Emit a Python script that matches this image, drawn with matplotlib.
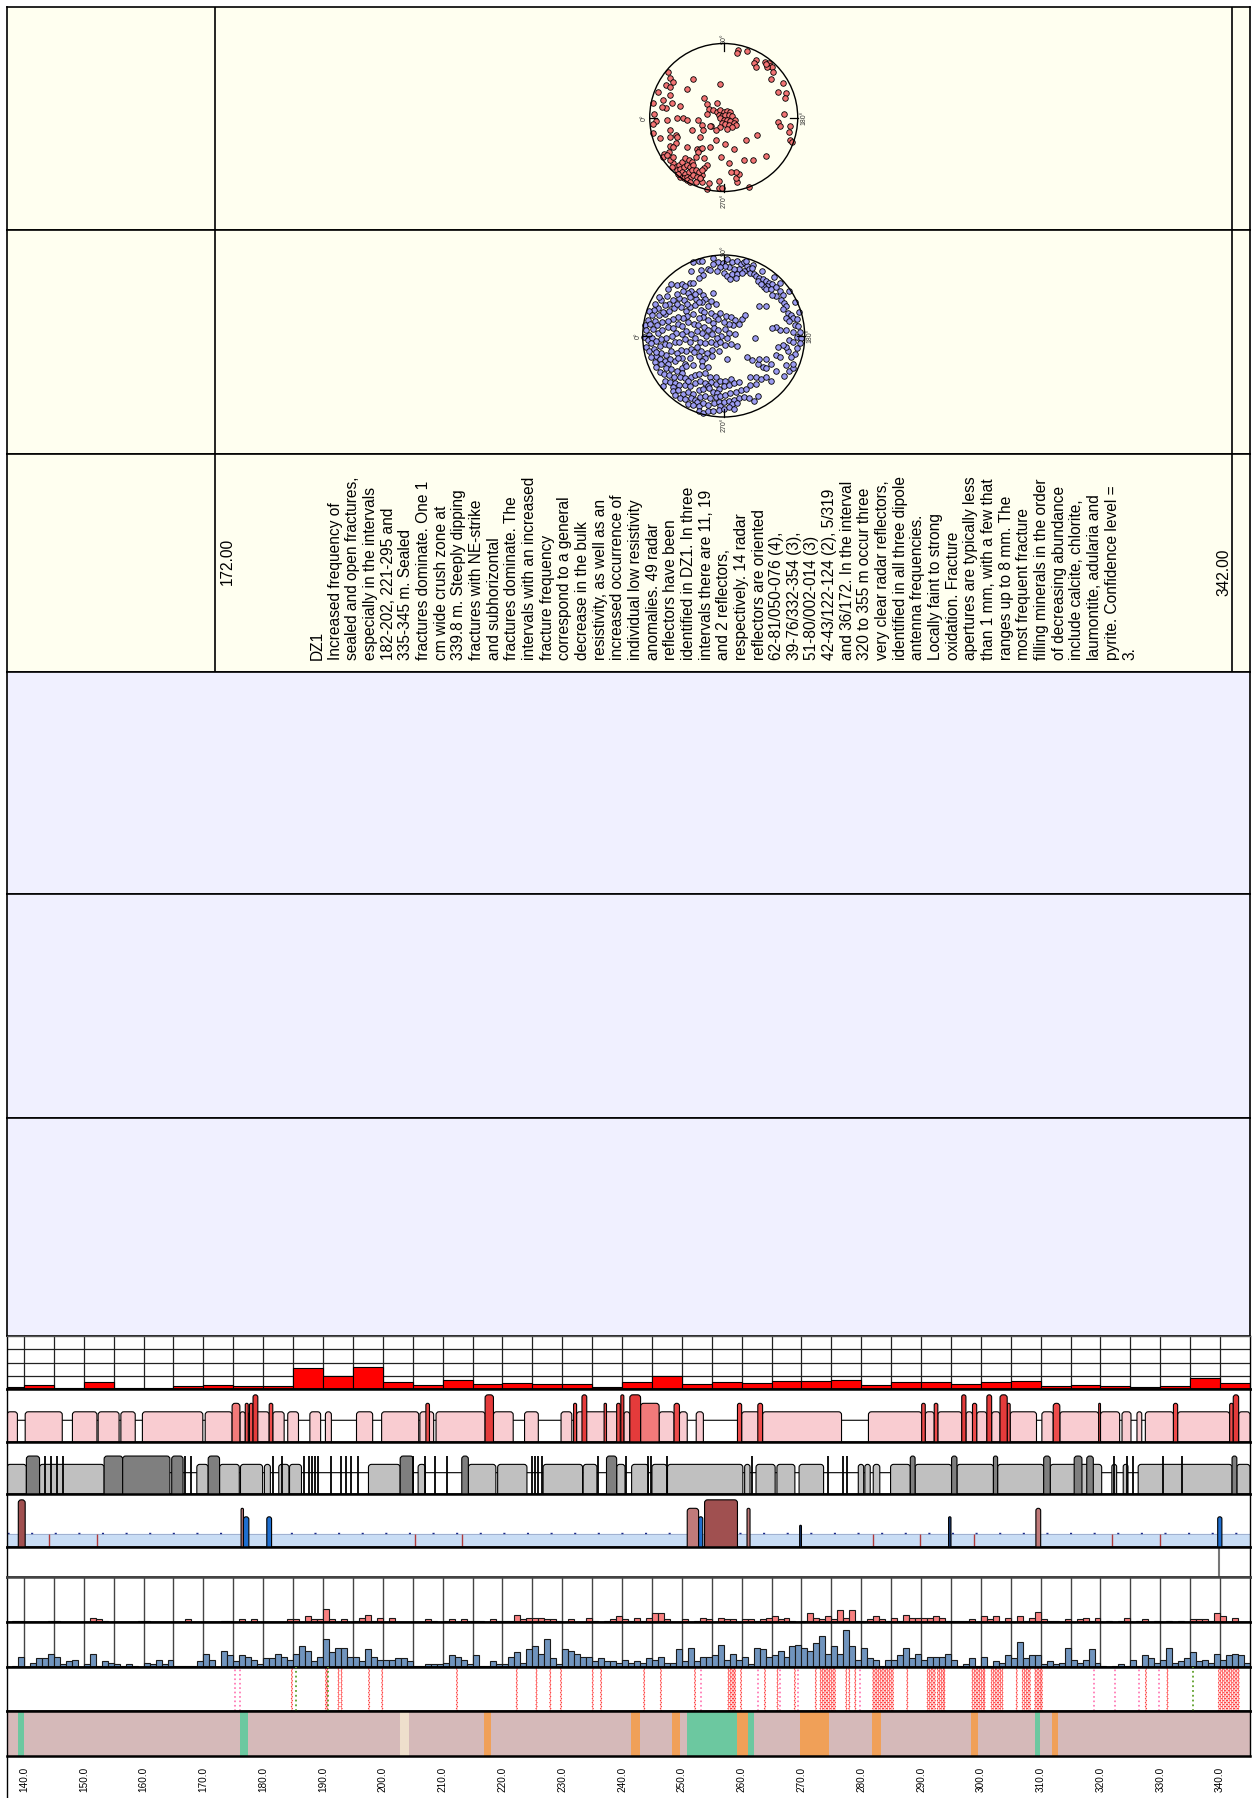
import numpy as np
import matplotlib
matplotlib.use("Agg")
import matplotlib.pyplot as plt
from matplotlib.patches import FancyBboxPatch, BoxStyle, Circle
from matplotlib.lines import Line2D

plt.rcParams['font.family'] = ['Liberation Sans', 'DejaVu Sans']

# ===================== DATA =====================
depth_min, depth_max = 137.16, 345.0
zone_name = "DZ1"
zone_top, zone_bottom = 172.0, 342.0
zone_top_label, zone_bottom_label = "172.00", "342.00"

description = [
    "DZ1", "Increased frequency of", "sealed and open fractures,",
    "especially in the intervals", "182-202, 221-295 and", "335-345 m. Sealed",
    "fractures dominate. One 1", "cm wide crush zone at", "339.8 m. Steeply dipping",
    "fractures with NE-strike", "and subhorizontal", "fractures dominate. The",
    "intervals with an increased", "fracture frequency", "correspond to a general",
    "decrease in the bulk", "resistivity, as well as an", "increased occurrence of",
    "individual low resistivity", "anomalies. 49 radar", "reflectors have been",
    "identified in DZ1. In three", "intervals there are 11, 19", "and 2 reflectors,",
    "respectively. 14 radar", "reflectors are oriented", "62-81/050-076 (4),",
    "39-76/332-354 (3),", "51-80/002-014 (3)", "42-43/122-124 (2), 5/319",
    "and 36/172. In the interval", "320 to 355 m occur three", "very clear radar reflectors,",
    "identified in all three dipole", "antenna frequencies.", "Locally faint to strong",
    "oxidation. Fracture", "apertures are typically less", "than 1 mm, with a few that",
    "ranges up to 8 mm. The", "most frequent fracture", "filling minerals in the order",
    "of decreasing abundance", "include calcite, chlorite,", "laumontite, adularia and",
    "pyrite. Confidence level =", "3.",
]

depth_ticks = [140.0, 150.0, 160.0, 170.0, 180.0, 190.0, 200.0, 210.0, 220.0, 230.0, 240.0,
               250.0, 260.0, 270.0, 280.0, 290.0, 300.0, 310.0, 320.0, 330.0, 340.0]

# stereonet poles (position in % of net radius; 0 deg left, 90 deg top)
red_poles = [(19,91),(18,87),(31,90),(44,78),(41,73),(43,68),(56,75),(59,71),(61,73),(63,69),
    (65,68),(67,61),(59,68),(57,72),(80,47),(64,52),(73,34),(84,33),(83,26),(81,5),(74,-6),
    (76,-11),(89,-11),(88,-19),(89,-31),(92,-33),(45,-24),(57,-52),(40,-58),(27,-58),(34,-94),
    (18,-87),(16,-82),(20,-76),(17,-73),(10,-74),(7,-61),(-4,-53),(14,-43),(30,-30),(2,-36),
    (-10,-30),(-18,-40),(-22,-64),(-27,-68),(-29,-78),(-32,-82),(-20,-89),(-30,-87),(-6,-86),
    (-6,-95),(-2,-95),(-22,-96),
    (-5,45),(-26,26),(-23,18),(-9,19),(-20,12),(-14,10),(-9,8),(-5,10),(0,8),(5,9),(9,8),
    (-7,3),(-2,2),(2,3),(7,3),(11,2),(15,-3),(-5,-1),(0,-3),(5,-3),(9,-5),(14,-8),(16,-10),
    (-2,-8),(2,-9),(7,-10),(11,-13),(-5,-13),(4,-16),(-11,-17),(-17,-12),(-23,5),(-30,-10),
    (-28,-17),(-19,-11),
    (-75,62),(-72,53),(-68,48),(-78,44),(-73,41),(-41,52),(-50,39),(-89,34),(-82,23),(-72,30),
    (-70,19),(-78,13),(-84,14),(-95,19),(-94,5),(-91,-5),(-95,-9),(-95,-21),(-86,-28),(-77,-3),
    (-59,15),(-63,-1),(-55,-1),(-50,-4),(-35,-4),(-73,-17),(-64,-23),(-73,-26),(-63,-26),
    (-64,-35),(-72,-39),(-68,-40),(-74,-46),(-81,-49),(-82,-53),(-43,-17),(-32,-27),(-50,-40),
    (-36,-42),(-32,-43),(-29,-41),(-35,-46),(-27,-55),(-38,-53),
    (-68,-62),(-65,-67),(-61,-64),(-56,-60),(-52,-55),(-47,-58),(-43,-60),(-63,-71),(-59,-69),
    (-54,-67),(-50,-64),(-45,-67),(-41,-64),(-61,-76),(-56,-73),(-52,-76),(-47,-73),(-43,-71),
    (-38,-71),(-59,-80),(-54,-82),(-50,-80),(-45,-82),(-41,-78),(-34,-73),(-36,-80),(-29,-71),
    (-72,-58),(-68,-53),(-70,-67),(-50,-85),(-45,-87),(-38,-87),(-32,-82),(-77,-51),(-62,-77)]

blue_poles = [(-38,91),(-31,92),(-27,93),(-13,96),(-7,91),(-1,90),(4,95),(10,91),(17,93),(21,89),
    (25,91),(29,87),(31,83),(25,80),(19,83),(13,83),(6,85),(2,87),(-4,85),(-13,89),(-19,83),
    (-8,80),(0,78),(4,74),(10,76),(17,76),(23,78),(33,78),(38,76),(40,74),(44,72),(42,68),
    (48,70),(52,68),(56,66),(60,64),(54,62),(50,60),(46,64),(52,58),(58,58),(65,60),(69,55),
    (73,51),(65,49),(60,51),(71,45),(75,41),(77,37),(73,33),(79,28),(83,26),(85,22),(77,22),
    (81,18),(88,14),(92,12),(94,5),(90,-1),(96,-3),(94,-9),(90,-15),(88,-22),(83,-26),(79,-18),
    (77,-13),(73,-11),(81,-5),(85,-7),(69,8),(65,11),(77,8),(85,5),(60,10),(52,37),(43,37),
    (15,72),(8,70),(-40,80),(-28,82),(-17,82),(-25,75),(-31,72),(-42,66),
    (28,93),(36,88),(47,80),(62,73),(70,65),(80,55),(88,42),(93,30),(91,21),(35,84),
    (-65,64),(-69,58),(-58,63),(-52,64),(-48,62),(-38,66),(-40,55),(-44,53),(-31,55),(-25,51),
    (-23,46),(-16,43),(-13,53),(-10,39),(-20,37),(-27,42),(-34,46),(-42,48),(-49,44),(-55,47),
    (-62,44),(-67,40),(-72,38),(-77,44),(-81,34),(-86,32),(-92,31),(-89,26),(-94,20),(-97,13),
    (-96,8),(-91,15),(-85,19),(-80,26),(-72,27),(-68,31),(-61,34),(-53,36),(-47,31),(-42,36),
    (-36,38),(-28,32),(-24,30),(-16,29),(-11,25),(-4,29),(3,25),(9,23),(14,20),(22,21),(26,26),
    (-58,52),(-50,55),(-35,52),(-45,40),(-30,42),(-58,40),(-75,30),(-85,40),(-70,50),(-80,48),
    (19,15),(12,13),(7,15),(0,17),(-7,21),(-13,16),(-20,20),(-26,23),(-30,22),(-38,27),(-45,25),
    (-50,22),(-57,24),(-62,21),(-69,19),(-76,17),(-82,13),(-87,9),
    (-92,1),(-98,-1),(-94,-5),(-88,-2),(-81,4),(-76,7),(-69,11),(-63,10),(-56,15),(-51,12),
    (-44,17),(-37,15),(-32,13),(-24,11),(-19,8),(-12,10),(-7,7),(1,9),(6,4),(14,2),
    (4,-2),(-3,0),(-8,-3),(-15,2),(-22,0),(-27,4),(-33,6),(-41,3),(-46,6),(-52,2),(-59,4),
    (-64,0),(-71,-2),(-77,-4),(-84,-6),(-90,-9),
    (-96,-13),(-92,-18),(-86,-16),(-79,-12),(-73,-10),(-67,-11),(-60,-7),(-55,-8),(-48,-4),
    (-42,-7),(-35,-3),(-29,-7),(-23,-9),(-16,-8),(-10,-10),(-4,-8),(2,-11),(9,-10),(17,-12),
    (-6,-19),(-14,-17),(-21,-21),(-28,-18),(-33,-14),(-40,-16),(-46,-19),(-53,-17),(-58,-21),
    (-65,-19),(-71,-23),(-78,-21),(-83,-25),(-90,-26),
    (-85,-32),(-79,-29),(-73,-31),(-66,-29),(-60,-31),(-52,-27),(-42,-27),(-31,-25),(-23,-27),
    (-15,-25),(4,-28),(-48,-34),(-69,-34),(-84,-20),(-57,-27),(-37,-20),(-27,-31),
    (-83,-38),(-77,-35),(-71,-39),(-65,-41),(-58,-43),(-52,-39),(-46,-37),(-38,-36),(-27,-37),
    (-19,-38),(-52,-46),
    (-79,-45),(-74,-47),(-67,-48),(-61,-51),(-54,-50),(-48,-52),(-41,-50),(-35,-48),(-30,-47),
    (-23,-46),(-17,-50),(-10,-51),
    (-73,-55),(-66,-57),(-60,-58),(-55,-60),(-48,-60),(-42,-62),(-36,-58),(-29,-56),(-23,-58),
    (-16,-57),(-10,-59),(-4,-56),(2,-55),(9,-53),(-62,-63),(-44,-56),(-20,-62),(-75,-62),
    (-63,-68),(-57,-67),(-50,-71),(-44,-69),(-38,-71),(-31,-67),(-25,-66),(-18,-64),(-13,-69),
    (-6,-65),(0,-62),(7,-61),(13,-58),(19,-57),(-8,-70),(-60,-73),
    (-54,-76),(-48,-78),(-41,-77),(-35,-79),(-29,-75),(-23,-74),(-17,-77),(-10,-75),(-4,-74),
    (2,-73),(8,-70),(15,-69),(21,-67),(-33,-82),
    (-44,-84),(-38,-85),(-31,-87),(-25,-83),(-19,-85),(-12,-83),(-6,-82),(0,-81),(6,-80),
    (13,-79),(19,-76),(25,-75),(-5,-86),(10,-84),(17,-83),
    (-31,-92),(-25,-95),(-19,-92),(-13,-93),(-6,-91),(0,-90),(6,-88),(13,-90),
    (31,-76),(38,-80),(42,-74),(27,-65),(33,-61),(40,-59),(33,-51),(40,-51),(46,-53),(52,-50),
    (48,-38),(42,-34),(35,-30),(29,-26),(52,-28),(44,-28),(65,-24),(69,-26),(75,-49),(81,-43),
    (85,-40),(65,-43),(58,-55),(52,-40),(58,-34),(39,-2),(67,-13),(77,-36),(85,-34)]

# Track A: fracture frequency per 5 m window
freq5_start = [135, 140, 145, 150, 155, 160, 165, 170, 175, 180, 185, 190, 195, 200, 205, 210,
               215, 220, 225, 230, 235, 240, 245, 250, 255, 260, 265, 270, 275, 280, 285, 290,
               295, 300, 305, 310, 315, 320, 325, 330, 335, 340]
freq5_value = [0.75, 1.5, 0.5, 2.5, 0.5, 0.5, 1.0, 1.5, 1.0, 1.0, 7.9, 4.75, 8.25, 2.5, 1.5, 3.25,
               1.9, 2.25, 1.9, 2.0, 0.75, 2.6, 4.75, 1.9, 2.6, 2.4, 3.0, 3.0, 3.4, 1.5, 2.5, 2.5,
               2.0, 2.75, 3.0, 1.25, 1.5, 1.0, 0.75, 1.0, 4.1, 2.25]

# 1 m histograms (138..344 m)
hist_start = list(range(138, 345))
open_per_m = [1,1,0,0,0,0,1,1,0,0, 0,0,0,3,2,1,0,0,0,0, 0,1,1,0,0,0,0,0,0,2,
    0,0,0,0,0,1,1,0,2,0, 2,0,0,0,0,0,2,2,0,4, 2,2,9,2,0,2,0,1,3,5,
    1,3,0,3,0,0,0,0,0,2, 1,0,1,2,0,2,1,1,1,0, 2,1,1,1,5,2,3,3,3,2,
    2,1,0,2,0,0,3,1,0,1, 2,4,2,1,3,1,3,6,6,2, 0,0,2,0,1,3,2,0,3,2,
    2,0,2,2,1,2,3,4,2,3, 1,0,1,6,3,2,4,2,8,3, 8,1,1,2,4,2,1,3,1,5,
    3,3,3,3,4,3,1,1,1,1, 2,0,4,2,4,0,3,0,4,1, 3,7,2,1,1,0,2,0,2,3,
    1,3,0,1,0,1,3,0,1,2, 0,1,0,1,0,1,0,2,2,2, 1,6,4,0,3,0,0]
sealed_per_m = [1,7,0,3,6,6,9,7,2,4, 5,0,2,9,1,4,3,2,1,2, 1,0,3,2,5,2,5,1,1,1,
    1,4,9,5,0,11,8,4,8,7, 5,2,6,6,9,7,5,9,14,11, 4,7,19,10,13,13,7,7,4,12,
    7,5,5,5,6,6,4,1,1,2, 2,2,3,8,7,5,2,8,1,1, 4,2,2,7,10,3,12,14,9,19,
    6,2,12,11,9,7,7,4,6,4, 4,3,5,3,4,3,6,5,7,3, 3,12,4,13,4,7,7,8,15,5,
    9,5,7,2,13,12,7,8,11,7, 14,15,13,11,16,21,9,14,9,25, 14,5,13,6,5,1,5,5,8,13,
    6,9,5,7,7,7,9,5,1,2, 6,1,7,1,4,3,8,6,17,6, 8,8,2,4,2,3,13,5,3,5,
    12,3,1,0,1,2,1,5,1,8, 6,3,5,13,3,4,6,10,4,5, 3,9,5,8,9,8,3]

# Track B: alteration intervals
alt_pink = [(137.16,138.9),(140.2,146.4),(148.1,152.2),(152.4,155.9),(156.2,158.6),(159.8,169.9),
    (170.3,174.8),(176.1,177.0),(177.5,181.0),(181.6,183.5),(184.1,185.9),(187.8,189.6),
    (190.4,191.4),(195.6,198.3),(199.8,206.0),(206.2,208.5),(208.9,217.1),(218.5,221.8),
    (223.7,226.0),(229.8,231.6),(232.4,239.4),(240.3,241.3),(246.2,248.7),(249.6,250.9),
    (252.4,253.6),(260.0,263.0),(263.5,276.7),(281.2,290.1),(290.7,292.2),(292.8,296.8),
    (297.5,298.6),(299.3,301.0),(301.8,303.2),(304.9,309.3),(310.2,312.1),(313.2,319.7),
    (320.0,323.2),(323.6,325.1),(326.1,326.9),(327.5,332.2),(332.9,341.6),(343.1,345.0)]
alt_light_red = [(174.8,176.1),(243.1,246.2)]
alt_red = [(177.0,177.5),(177.7,178.3),(181.0,181.6),(207.2,207.8),(231.9,232.4),(237.0,237.4),
    (239.1,239.7),(248.7,249.6),(259.3,260.0),(262.7,263.5),(290.1,290.7),(292.2,292.8),
    (298.6,299.3),(304.4,304.9),(312.1,313.2),(319.7,320.0),(332.2,332.9),(341.6,342.2)]
alt_dark_red = [(178.3,179.1),(217.1,218.5),(233.3,234.1),(239.8,240.3),(241.3,243.1),
    (296.8,297.5),(301.0,301.8),(303.2,304.4),(342.2,343.1)]

# Track C: grey intervals
grey_light = [(137.16,140.4),(142.6,153.4),(168.9,170.8),(172.7,176.0),(176.2,179.9),(180.2,181.2),
    (182.6,184.3),(184.4,186.4),(197.6,202.9),(205.9,207.1),(214.3,218.9),(219.2,224.1),
    (226.8,233.4),(233.5,235.8),(239.1,240.5),(241.6,244.4),(245.0,247.5),(247.6,260.2),
    (260.5,261.4),(262.4,265.6),(265.9,268.9),(269.6,273.7),(279.5,280.4),(280.6,281.5),
    (282.0,283.1),(284.9,288.2),(289.0,295.1),(296.0,302.1),(302.8,310.5),(311.6,320.2),
    (321.9,322.7),(323.8,324.6),(326.3,342.0),(342.8,345.0)]
grey_dark = [(140.4,142.6),(153.4,156.5),(156.5,164.4),(164.7,166.6),(170.8,172.7),(202.9,205.1),
    (213.2,214.3),(237.4,239.1),(288.2,289.0),(295.1,296.0),(302.1,302.8),(310.5,311.6),
    (315.6,316.9),(317.7,318.8),(342.0,342.8)]
grey_lines = [143.5,144.6,145.5,146.6,166.9,168.0,181.6,183.2,186.9,187.6,188.1,188.7,189.2,
    191.4,193.0,193.8,194.7,195.8,205.1,207.1,208.7,210.7,224.9,225.5,226.0,226.6,236.0,
    240.7,244.4,244.8,247.5,261.7,274.5,277.0,277.6,322.2,324.4,325.5,330.5,333.7]

# Track D
d_dark = [(139.05,140.2),(253.8,259.3)]
d_mid = [(176.3,176.7),(250.9,252.8),(260.9,261.4),(309.2,310.0)]
d_blue = [(176.7,177.6),(180.6,181.4),(252.8,253.5),(339.6,340.3)]
d_navy = [(269.7,270.0),(294.6,295.0)]
d_navy_level = [0.41, 0.57]
d_ticks = [144.1,152.2,205.3,213.3,281.9,289.8,298.9,322.0,330.0]

# Track E
crush_zone = [339.8]

# Track H: individual fractures
frac_open = [184.8,190.5,190.7,192.6,193.1,197.7,199.9,212.4,222.4,225.7,228.0,229.8,235.1,
    236.5,243.7,246.5,252.2,257.8,258.1,258.4,258.7,258.9,259.9,263.9,266.0,268.9,272.4,
    273.2,273.5,273.8,274.1,274.4,274.7,275.0,275.3,275.6,277.5,278.0,279.0,
    282.0,282.3,282.6,282.9,283.2,283.5,283.8,284.1,284.4,284.7,285.0,285.3,287.7,
    291.1,291.4,291.7,292.0,292.3,292.8,293.1,293.4,293.7,293.9,
    298.6,298.9,299.2,299.5,299.8,300.1,300.4,300.6,301.8,302.1,302.4,302.7,303.0,303.3,303.6,
    306.0,307.0,307.3,307.6,307.9,308.2,309.1,309.4,309.7,310.0,310.2,327.6,331.2,
    339.8,340.1,340.4,340.7,341.0,341.3,341.6,341.9,342.2,342.5,342.8,343.1]
frac_pink = [175.3,176.1,253.2,262.7,266.4,269.5,279.8,318.9,322.4,326.5,329.8]
frac_green = [185.5,190.8,335.5]

# Track I: rock type
rock_green = [(139.0,140.0),(176.1,177.5),(250.8,259.3),(261.0,262.1),(309.1,309.9)]
rock_orange = [(216.9,218.1),(241.5,243.0),(248.4,249.7),(259.3,261.0),(269.8,274.6),(281.8,283.3),
    (298.4,299.5),(311.9,312.9)]
rock_beige = [(202.9,204.4)]

# ===================== LAYOUT =====================
W, H = 1252, 1798
fig = plt.figure(figsize=(W / 100, H / 100), dpi=100)
X0, X1 = 7, 1250
PX_PER_M = (X1 - X0) / (depth_max - depth_min)


def add_ax(y0, y1, x0=X0, x1=X1):
    return fig.add_axes([x0 / W, 1 - y1 / H, (x1 - x0) / W, (y1 - y0) / H])


def depth_to_px(d):
    return X0 + (d - depth_min) * PX_PER_M


def clean(ax, ylim=(0, 1)):
    ax.set_xlim(depth_min, depth_max)
    ax.set_ylim(*ylim)
    ax.set_xticks([])
    ax.set_yticks([])


# --- top table rows ---
row_bounds = [7, 230, 454, 672, 894, 1118, 1336]
row_colors = ['#FFFFF0'] * 3 + ['#F0F0FF'] * 3
for i in range(6):
    ax = add_ax(row_bounds[i], row_bounds[i + 1])
    ax.set_facecolor(row_colors[i])
    clean(ax)
    for s in ax.spines.values():
        s.set_linewidth(1.2)
    if i < 3:
        for d in (zone_top, zone_bottom):
            ax.axvline(d, color='black', lw=1.2)


# --- stereonets ---
def stereonet(cy, r, poles, color, lab_off):
    cx = depth_to_px((zone_top + zone_bottom) / 2)
    s = r * 1.4
    ax = fig.add_axes([(cx - s) / W, 1 - (cy + s) / H, 2 * s / W, 2 * s / H])
    ax.set_xlim(-1.4, 1.4)
    ax.set_ylim(-1.4, 1.4)
    ax.axis('off')
    ax.add_patch(Circle((0, 0), 1, fill=False, ec='black', lw=1.0, zorder=4))
    px = np.array([p[0] for p in poles]) / 100.0
    py = np.array([p[1] for p in poles]) / 100.0
    ax.scatter(px, py, s=16, c=color, edgecolors='black', linewidths=0.6, zorder=3)
    for (tx, ty) in [(-1, 0), (0, 1), (1, 0), (0, -1)]:
        ax.plot([tx, tx * 0.9], [ty, ty * 0.9], color='black', lw=0.9, zorder=4)
    labs = [("0°", -lab_off[0], 0), ("90°", 0, lab_off[1]), ("180°", lab_off[2], 0),
            ("270°", 0, -lab_off[3])]
    for t, lx, ly in labs:
        ax.text(lx, ly, t, rotation=90, ha='center', va='center', fontsize=5.0, color='#333333')


stereonet(117.5, 74, red_poles, '#F27373', (1.08, 1.06, 1.08, 1.13))
stereonet(336, 81, blue_poles, '#9C9CF2', (1.06, 1.05, 1.06, 1.10))

# --- zone description ---
fs_desc = 11.2
fig.text(231.5 / W, 1 - 561 / H, zone_top_label, rotation=90, rotation_mode='anchor',
         ha='center', va='baseline', fontsize=fs_desc)
fig.text(1228.5 / W, 1 - 572 / H, zone_bottom_label, rotation=90, rotation_mode='anchor',
         ha='center', va='baseline', fontsize=fs_desc)
for i, line in enumerate(description):
    xb = 322.0 + 17.66 * i
    fig.text(xb / W, 1 - 660 / H, line, rotation=90, rotation_mode='anchor',
             ha='left', va='baseline', fontsize=fs_desc)

# --- log tracks ---
tracks = {'A': (1336, 1389), 'B': (1389, 1442), 'C': (1442, 1494), 'D': (1494, 1547),
          'E': (1547, 1577), 'F': (1577, 1622), 'G': (1622, 1667), 'H': (1667, 1711),
          'I': (1711, 1756)}
axs = {}
for k, (y0, y1) in tracks.items():
    ax = add_ax(y0, y1)
    clean(ax)
    for s in ('top', 'bottom'):
        ax.spines[s].set_linewidth(1.8)
    for s in ('left', 'right'):
        ax.spines[s].set_linewidth(1.0)
    axs[k] = ax
axs['A'].spines['top'].set_linewidth(1.0)
axs['A'].spines['top'].set_color('#555555')
axs['F'].spines['top'].set_color('#444444')

grid5 = np.arange(140, 345, 5)


def rboxes(ax, intervals, top, color, track_px, r_px=3.0, lw=0.8, z=2, ec='black'):
    asp = PX_PER_M / track_px
    for a, b in intervals:
        w = b - a
        rs = max(min(r_px / PX_PER_M, w / 2), 1e-3)
        p = FancyBboxPatch((a, -0.3), w, top + 0.3,
                           boxstyle=BoxStyle.Round(pad=0, rounding_size=rs),
                           mutation_aspect=asp, fc=color, ec=ec, lw=lw, zorder=z)
        ax.add_patch(p)


# A: 5 m fracture frequency
axA = axs['A']
axA.set_ylim(0, 20)
for yv in (5, 10, 15):
    axA.axhline(yv, color='#222222', lw=0.9, zorder=1)
for d in grid5:
    axA.axvline(d, color='#222222', lw=0.9, zorder=1)
axA.bar(freq5_start, freq5_value, width=5, align='edge', color='#FF0000',
        edgecolor='black', linewidth=0.8, zorder=2)

# B: alteration
hB = tracks['B'][1] - tracks['B'][0]
rboxes(axs['B'], [(depth_min - 2, depth_max + 2)], 0.41, 'white', hB, z=1)
rboxes(axs['B'], alt_pink, 0.57, '#F9CCD1', hB, z=2)
rboxes(axs['B'], alt_light_red, 0.73, '#F27A7A', hB, z=3)
rboxes(axs['B'], alt_red, 0.73, '#EE4B4B', hB, z=3)
rboxes(axs['B'], alt_dark_red, 0.89, '#E43B3B', hB, z=3)

# C: grey intervals
hC = tracks['C'][1] - tracks['C'][0]
rboxes(axs['C'], [(depth_min - 2, depth_max + 2)], 0.41, 'white', hC, z=1)
rboxes(axs['C'], grey_light, 0.57, '#C0C0C0', hC, z=2)
rboxes(axs['C'], grey_dark, 0.73, '#7F7F7F', hC, z=3)
axs['C'].vlines(grey_lines, 0, 0.73, color='black', lw=1.3, zorder=3)

# D
axD = axs['D']
hD = tracks['D'][1] - tracks['D'][0]
axD.axhspan(0, 0.24, color='#C9DDF5', zorder=1)
axD.axhline(0.24, color='#9AAACC', lw=0.6, zorder=1)
axD.axhline(0.265, color='#1A2A8A', lw=1.0, dashes=(1.5, 15.5), zorder=1)
axD.vlines(d_ticks, 0, 0.24, color='#B03A3A', lw=1.0, zorder=2)
rboxes(axD, d_dark, 0.89, '#A05050', hD, z=3)
rboxes(axD, d_mid, 0.73, '#C07A7A', hD, z=3)
rboxes(axD, d_blue, 0.57, '#1F6FD0', hD, z=4)
for (a, b), lv in zip(d_navy, d_navy_level):
    rboxes(axD, [(a, b)], lv, '#1A3D7A', hD, z=4)

# E
axs['E'].vlines(crush_zone, 0, 1, color='#777777', lw=1.5)

# F, G histograms
for k, vals, col in (('F', open_per_m, '#F88080'), ('G', sealed_per_m, '#7094BE')):
    ax = axs[k]
    ax.set_ylim(0, 30)
    for d in grid5:
        ax.axvline(d, color='#444444', lw=1.0, zorder=1)
    ax.bar(hist_start, vals, width=1, align='edge', color=col, edgecolor='#1a1a1a',
           linewidth=0.8, zorder=2)

# H: individual fractures
axH = axs['H']
n = 23
yy = np.linspace(0, 1, n)
saw = np.where(np.arange(n) % 2 == 0, -1.0, 1.0)
for i, d in enumerate(frac_open):
    ph = 1 if i % 2 == 0 else -1
    axH.plot(d + 0.15 * ph * saw, yy, color='#FF2020', lw=0.65, dashes=(2.0, 1.0), zorder=2)
for d in frac_pink:
    axH.plot([d, d], [0, 1], color='#FF6FAF', lw=1.2, ls=':', zorder=2)
for d in frac_green:
    axH.plot([d, d], [0, 1], color='#5FA02A', lw=1.3, ls=':', zorder=3)

# I: rock type
axI = axs['I']
axI.set_facecolor('#D5B9B9')
for a, b in rock_green:
    axI.axvspan(a, b, color='#6CC8A0', lw=0)
for a, b in rock_orange:
    axI.axvspan(a, b, color='#F0A058', lw=0)
for a, b in rock_beige:
    axI.axvspan(a, b, color='#EEDFCC', lw=0)
axI.set_xticks(depth_ticks)
axI.set_xticklabels([f"{t:.1f}" for t in depth_ticks], rotation=90, fontsize=7.2)
axI.tick_params(axis='x', length=0, pad=8)

fig.add_artist(Line2D([X0 / W, X0 / W], [0, 1 - 1756 / H], transform=fig.transFigure,
                      color='black', lw=1.0))

fig.savefig("out.png", dpi=100, facecolor='white')
